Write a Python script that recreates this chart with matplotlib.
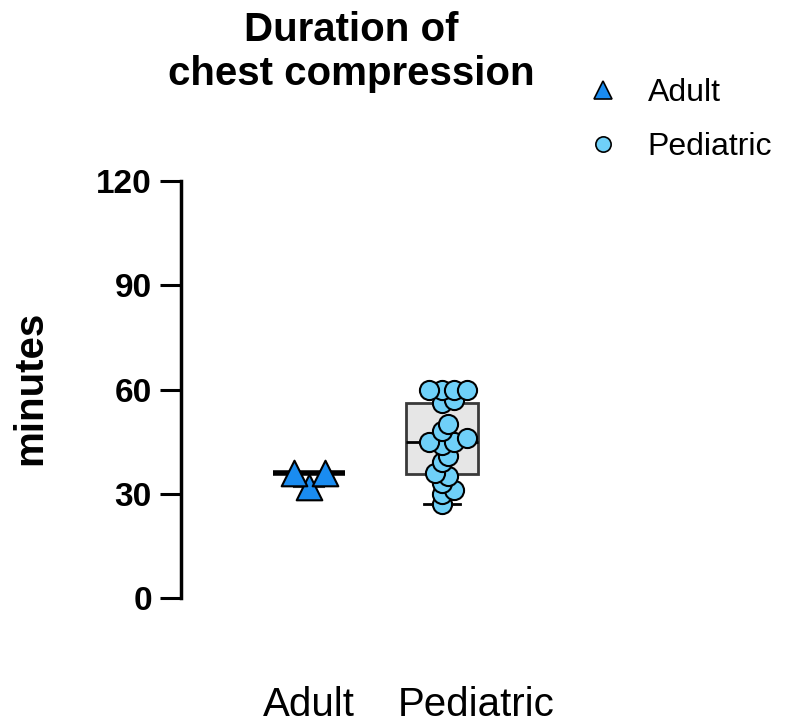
#Purpose: Duration of chest compression, adult vs pediatric (box + scatter)

import matplotlib
matplotlib.use('Agg')
import matplotlib.pyplot as plt
import matplotlib.transforms as mtransforms
from matplotlib.lines import Line2D
import numpy as np

##########################################
#Data (minutes)
groups = ['Adult', 'Pediatric']
adult = [32, 36, 36]
pediatric = [27, 30, 31, 33, 35, 36, 39, 41, 44, 45, 45, 46, 48, 50, 56, 57, 60, 60, 60, 60]
yticks = [0, 30, 60, 90, 120]

font_name = 'Liberation Sans'
adult_color = '#1a8cf0'
ped_color = '#6fd0f8'
box_face = '#e6e6e6'
box_edge = '#3a3a3a'

##########################################
#Simple deterministic swarm so points do not sit on top of each other
def swarm(vals, xscale, yscale, diam, overlap=0.55, step_frac=0.5):
	vals = np.asarray(vals, dtype=float)
	order = np.argsort(vals)
	placed = []
	offs = np.zeros(len(vals))
	step = diam * step_frac
	for i in order:
		y = vals[i] * yscale
		for k in range(60):
			cand = (k + 1) // 2 * step * (1 if k % 2 else -1)
			ok = True
			for (px, py) in placed:
				if np.hypot(px - cand, py - y) < diam * overlap:
					ok = False
					break
			if ok:
				break
		placed.append((cand, y))
		offs[i] = cand / xscale
	return offs

##########################################
fig = plt.figure(figsize=[7.87, 7.26], dpi=100)
ax = fig.add_axes([181/787, 128/726, 339/787, 417/726])

xpx = 132.5 #pixels per x unit
ypx = 417/120. #pixels per minute

#Pediatric box (min-max whiskers)
ax.boxplot([pediatric], positions=[1], widths=0.54, whis=(0, 100), patch_artist=True, showfliers=False,
	capwidths=0.27,
	boxprops=dict(facecolor=box_face, edgecolor=box_edge, linewidth=2),
	medianprops=dict(color='black', linewidth=2),
	whiskerprops=dict(color=box_edge, linewidth=2),
	capprops=dict(color='black', linewidth=2), zorder=1)

#Adult: median line + range caps only
ax.boxplot([adult], positions=[0], widths=0.54, whis=(0, 100), patch_artist=True, showfliers=False,
	capwidths=0.23,
	boxprops=dict(facecolor='none', edgecolor='none', linewidth=0),
	medianprops=dict(color='black', linewidth=4),
	whiskerprops=dict(color=box_edge, linewidth=1.5),
	capprops=dict(color=box_edge, linewidth=1.5), zorder=1)

off_a = swarm(adult[::-1], xpx, ypx, 26, overlap=0.6, step_frac=0.6)[::-1]
off_p = swarm(pediatric, xpx, ypx, 18, overlap=0.4, step_frac=0.35)

ax.scatter(0 + off_a, adult, marker='^', s=340, facecolor=adult_color, edgecolor='black', linewidth=1.5, zorder=3)
ax.scatter(1 + off_p, pediatric, marker='o', s=190, facecolor=ped_color, edgecolor='black', linewidth=1.5, zorder=3)

#Axes styling
ax.set_xlim(-0.966, 1.59)
ax.set_ylim(0, 120)
ax.set_yticks(yticks)
ax.set_yticklabels([str(t) for t in yticks], fontname=font_name, fontsize=24, fontweight='bold')
ax.set_xticks([0, 1])
ax.set_xticklabels(groups, fontname=font_name, fontsize=29)
ax.tick_params(axis='y', length=15, width=2.2, pad=6)
ax.tick_params(axis='x', length=0, pad=63)
for side in ['top', 'right', 'bottom']:
	ax.spines[side].set_visible(False)
ax.spines['left'].set_linewidth(2.5)
ax.spines['left'].set_bounds(0, 120)

#GraphPad puts the second label a little to the right
xl = ax.get_xticklabels()
xl[1].set_transform(xl[1].get_transform() + mtransforms.ScaledTranslation(34/100., 0, fig.dpi_scale_trans))

fig.text(30/787, 1 - 388/726, 'minutes', rotation=90, ha='center', va='center', fontname=font_name, fontsize=29, fontweight='bold')
fig.text(351/787, 1 - 52/726, 'Duration of\nchest compression', ha='center', va='center', fontname=font_name,
	fontsize=29, fontweight='bold', linespacing=1.2)

#Legend
handles = [Line2D([], [], linestyle='none', marker='^', markersize=13, markerfacecolor=adult_color, markeredgecolor='black', markeredgewidth=1.2),
	Line2D([], [], linestyle='none', marker='o', markersize=11, markerfacecolor=ped_color, markeredgecolor='black', markeredgewidth=1.2)]
fig.legend(handles, groups, loc='upper left', bbox_to_anchor=(571/787, 1 - 78/726), frameon=False, borderpad=0, borderaxespad=0,
	handlelength=2, handletextpad=0.4, labelspacing=0.75, prop={'family': font_name, 'size': 23})

plt.savefig('out.png', dpi=100)
plt.close()
